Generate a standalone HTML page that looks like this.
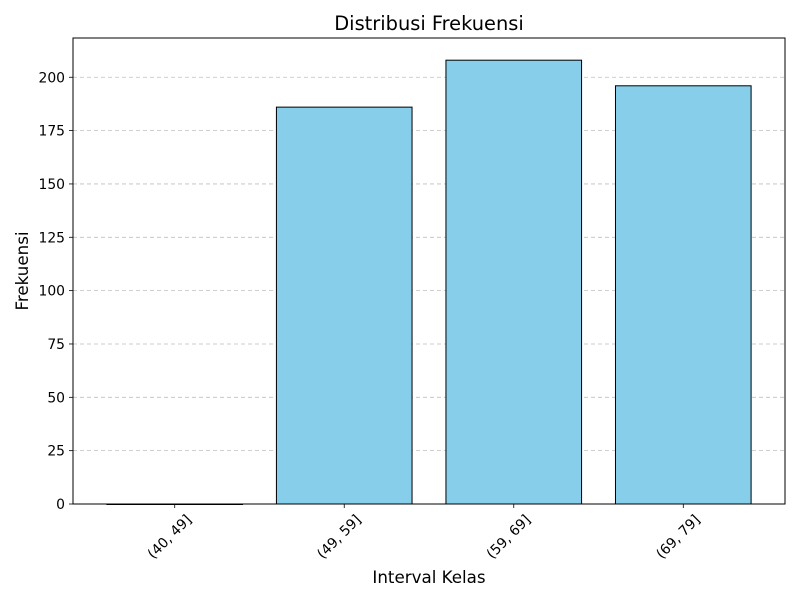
<!DOCTYPE html>
<html><head><meta charset="utf-8"><style>
body{margin:0;background:#fff}
svg{font-family:"DejaVu Sans","Liberation Sans",sans-serif}
</style></head><body>
<svg id="chart" width="800" height="600" viewBox="0 0 800 600">
<rect width="800" height="600" fill="#fff"/>
<g id="grid"></g><g id="bars"></g><g id="axes"></g>
<text x="429" y="30" text-anchor="middle" font-size="19.4">Distribusi Frekuensi</text>
<text x="429" y="583" text-anchor="middle" font-size="16.7">Interval Kelas</text>
<text transform="translate(28,271) rotate(-90)" text-anchor="middle" font-size="16.7">Frekuensi</text>
</svg>
<script>
const categories = ["(40, 49]", "(49, 59]", "(59, 69]", "(69, 79]"];
const values = [0, 186, 208, 196];
const yTicks = [0, 25, 50, 75, 100, 125, 150, 175, 200];
const NS = "http://www.w3.org/2000/svg";
const L = 73, R = 785, T = 38, B = 504;
const yMax = 218.4;
const xS = i => L + (i + 0.6) / 4.2 * (R - L);
const yS = v => B - v / yMax * (B - T);
const bw = 0.8 / 4.2 * (R - L);
function mk(tag, attrs, parent) { const e = document.createElementNS(NS, tag); for (const k in attrs) e.setAttribute(k, attrs[k]); parent.appendChild(e); return e; }
const grid = document.getElementById("grid"), bars = document.getElementById("bars"), axes = document.getElementById("axes");
yTicks.forEach(t => {
  const y = yS(t);
  if (t > 0) {
    const g = mk("line", {x1: L, x2: R, y1: y, y2: y, stroke: "#bfbfbf", "stroke-dasharray": "4,3", "stroke-width": 0.8}, grid);
    
    
  }
  const tk = mk("line", {x1: L - 4, x2: L, y1: y, y2: y, stroke: "#000", "stroke-width": 0.8}, axes);
  
  
  const tx = mk("text", {x: L - 8, y: y + 5, "text-anchor": "end", "font-size": 13.9}, axes);
  tx.textContent = t;
  
  
});
categories.forEach((c, i) => {
  const cx = xS(i), y = yS(values[i]);
  const r = mk("rect", {x: cx - bw / 2, y: y, width: bw, height: Math.max(B - y, 0.5), fill: "#87ceeb", stroke: "#000", "stroke-width": 1}, bars);
  
  
  const tk = mk("line", {x1: cx, x2: cx, y1: B, y2: B + 4, stroke: "#000", "stroke-width": 0.8}, axes);
  
  
  const tx = mk("text", {transform: `translate(${cx - 2},${B + 36}) rotate(-45)`, "text-anchor": "middle", "font-size": 13.9}, axes);
  tx.textContent = c;
  
  
});
const fr = mk("rect", {x: L, y: T, width: R - L, height: B - T, fill: "none", stroke: "#000", "stroke-width": 1}, axes);


</script>
</body></html>
